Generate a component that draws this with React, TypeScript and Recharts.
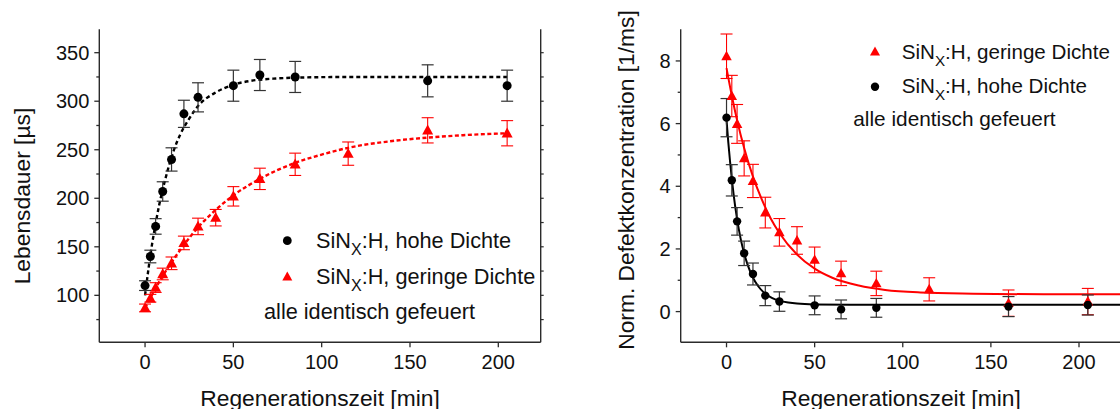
import React from "react";
import { ComposedChart, Scatter, Line, XAxis, YAxis, ErrorBar } from "recharts";

const FONT = '"Liberation Sans", Arial, Helvetica, sans-serif';
const INK = "#111";
const AXIS = "#2b2b2b";
const RED = "#ff0000";

// left panel: lifetime vs. regeneration time
const tLeftBlack = [0, 3, 6, 10, 15, 22, 30, 50, 65, 85, 160, 205];
const tauLeftBlack = [110, 140, 171, 207, 240, 287, 304, 316, 327, 325, 321, 316];
const errLeftBlack = [5, 6.5, 8, 10, 12, 14, 15, 16, 16, 16, 16.5, 16];

const tLeftRed = [0, 3, 6, 10, 15, 22, 30, 40, 50, 65, 85, 115, 160, 205];
const tauLeftRed = [87, 97, 108, 122, 133, 154, 171, 180, 202, 220, 235, 246, 270, 267];
const errLeftRed = [4, 4, 5, 6, 6.5, 7, 8.5, 8.5, 10, 11, 11.5, 12, 13, 13];

// fit curves
const fitLeftBlackT = [0, 2, 4, 6, 8, 10, 13, 16, 20, 25, 30, 40, 50, 60, 75, 90, 120, 160, 205];
const fitLeftBlackV = [100, 128, 153, 174, 193, 209, 230, 248, 266, 282, 295, 309, 317, 321, 323.5, 324.5, 325, 325, 325];
const fitLeftRedT = [0, 5, 10, 15, 20, 30, 40, 50, 65, 85, 100, 115, 140, 160, 180, 205];
const fitLeftRedV = [87, 104, 120, 134, 147, 170, 188, 203, 220, 236.5, 245, 252, 259, 262.5, 265, 267];

// right panel: normalised defect concentration
const tRightRed = [0, 3, 6, 10, 15, 22, 30, 40, 50, 65, 85, 115, 160, 205];
const nRightRed = [8.15, 6.88, 5.99, 4.89, 4.17, 3.16, 2.53, 2.27, 1.65, 1.22, 0.9, 0.71, 0.27, 0.32];
const errRightRed = [0.71, 0.66, 0.62, 0.56, 0.53, 0.49, 0.44, 0.44, 0.41, 0.39, 0.39, 0.37, 0.42, 0.42];

const tRightBlack = [0, 3, 6, 10, 15, 22, 30, 50, 65, 85, 160, 205];
const nRightBlack = [6.19, 4.19, 2.88, 1.86, 1.2, 0.51, 0.32, 0.2, 0.07, 0.12, 0.16, 0.21];
const errRightBlack = [0.61, 0.5, 0.44, 0.39, 0.35, 0.32, 0.31, 0.3, 0.3, 0.3, 0.32, 0.32];

const fitRightRedT = [0, 3, 6, 10, 15, 20, 25, 30, 40, 50, 60, 75, 90, 110, 140, 180, 224];
const fitRightRedV = [7.77, 6.89, 6.11, 5.22, 4.31, 3.58, 2.98, 2.51, 1.82, 1.37, 1.08, 0.83, 0.69, 0.61, 0.57, 0.55, 0.55];
const fitRightBlackT = [0, 1, 2, 3, 4, 6, 8, 10, 12, 15, 18, 22, 26, 30, 35, 40, 50, 70, 224];
const fitRightBlackV = [6.12, 5.41, 4.79, 4.24, 3.75, 2.95, 2.33, 1.86, 1.49, 1.08, 0.81, 0.57, 0.43, 0.35, 0.29, 0.255, 0.23, 0.22, 0.22];

const xTicks = [0, 50, 100, 150, 200];
const leftMajor = [100, 150, 200, 250, 300, 350];
const leftAll = [75, 100, 125, 150, 175, 200, 225, 250, 275, 300, 325, 350];
const rightMajor = [0, 2, 4, 6, 8];
const rightAll = [0, 1, 2, 3, 4, 5, 6, 7, 8];

const zip = (xs: number[], ys: number[], es?: number[]) =>
  xs.map((x, i) => ({ x, y: ys[i], e: es ? es[i] : 0 }));

const Dot = (r: number) => (p: any) => <circle cx={p.cx} cy={p.cy} r={r} fill="#000" />;
const Tri = (w: number) => (p: any) => {
  const h = w * 0.9;
  return (
    <polygon
      points={`${p.cx},${p.cy - h * 0.58} ${p.cx - w / 2},${p.cy + h * 0.42} ${p.cx + w / 2},${p.cy + h * 0.42}`}
      fill={RED}
    />
  );
};

// y tick with major/minor lengths; label only on majors
const YTick = (majors: number[]) => (p: any) => {
  const v = p.payload.value;
  const major = majors.includes(v);
  const ax = p.x + 10;
  return (
    <g>
      <line x1={ax - (major ? 5 : 3)} x2={ax} y1={p.y} y2={p.y} stroke={AXIS} strokeWidth={1.3} />
      {major && (
        <text x={p.x} y={p.y} dy="0.355em" textAnchor="end" fontSize={20} fontFamily={FONT} fill={INK}>
          {v}
        </text>
      )}
    </g>
  );
};

const tickStyle = { fontSize: 20, fill: INK, fontFamily: FONT };
const axisLine = { stroke: AXIS, strokeWidth: 1.4 };
const titleStyle = { fontSize: 22.8, fill: INK, fontFamily: FONT };

function SinText({ x, y, rest, size }: { x: number; y: number; rest: string; size: number }) {
  return (
    <text x={x} y={y} fontSize={size} fontFamily={FONT} fill={INK}>
      SiN
      <tspan fontSize={size * 0.74} dy={6.5}>X</tspan>
      <tspan dy={-6.5}>{rest}</tspan>
    </text>
  );
}

function VTitle({ x, y, text }: { x: number; y: number; text: string }) {
  return (
    <text x={x} y={y} dy="0.355em" textAnchor="middle" transform={`rotate(-90, ${x}, ${y})`} {...titleStyle}>
      {text}
    </text>
  );
}

function LeftPanel() {
  return (
    <ComposedChart width={600} height={409} margin={{ top: 29.3, right: 49.3, bottom: 0, left: 0 }}>
      <XAxis
        xAxisId="b"
        type="number"
        dataKey="x"
        domain={[-25.9, 224]}
        ticks={xTicks}
        allowDataOverflow
        height={66.7}
        tickSize={5}
        tickMargin={7.7}
        tick={tickStyle}
        axisLine={axisLine}
        tickLine={{ stroke: AXIS, strokeWidth: 1.3 }}
        label={{ value: "Regenerationszeit [min]", position: "insideBottom", offset: 3.5, ...titleStyle }}
      />
      <XAxis
        xAxisId="t"
        orientation="top"
        type="number"
        dataKey="x"
        domain={[-25.9, 224]}
        ticks={xTicks}
        allowDataOverflow
        height={0}
        mirror
        tickSize={3}
        tickFormatter={() => ""}
        axisLine={axisLine}
        tickLine={{ stroke: AXIS, strokeWidth: 1.2 }}
      />
      <YAxis
        yAxisId="l"
        type="number"
        domain={[51.6, 374.1]}
        ticks={leftAll}
        allowDataOverflow
        width={99.3}
        tickSize={5}
        tickMargin={5}
        tickLine={false}
        tick={YTick(leftMajor)}
        axisLine={axisLine}
      />
      <YAxis
        yAxisId="r"
        orientation="right"
        type="number"
        domain={[51.6, 374.1]}
        ticks={leftAll}
        allowDataOverflow
        width={10}
        tickSize={3}
        tickFormatter={() => ""}
        axisLine={axisLine}
        tickLine={{ stroke: AXIS, strokeWidth: 1.2 }}
      />
      <Line xAxisId="b" yAxisId="l" data={zip(fitLeftBlackT, fitLeftBlackV)} dataKey="y" type="monotone"
        stroke="#000" strokeWidth={2.4} strokeDasharray="4 3" dot={false} isAnimationActive={false} />
      <Line xAxisId="b" yAxisId="l" data={zip(fitLeftRedT, fitLeftRedV)} dataKey="y" type="monotone"
        stroke={RED} strokeWidth={2.4} strokeDasharray="4 2.5" dot={false} isAnimationActive={false} />
      <Scatter xAxisId="b" yAxisId="l" data={zip(tLeftRed, tauLeftRed, errLeftRed)} dataKey="y"
        shape={Tri(11)} isAnimationActive={false}>
        <ErrorBar dataKey="e" direction="y" width={6} stroke={RED} strokeWidth={1.1} />
      </Scatter>
      <Scatter xAxisId="b" yAxisId="l" data={zip(tLeftBlack, tauLeftBlack, errLeftBlack)} dataKey="y"
        shape={Dot(4.5)} isAnimationActive={false}>
        <ErrorBar dataKey="e" direction="y" width={6} stroke="#333" strokeWidth={1.2} />
      </Scatter>
    </ComposedChart>
  );
}

function RightPanel() {
  return (
    <ComposedChart width={540} height={409} margin={{ top: 29.3, right: 18.7, bottom: 0, left: 0 }}>
      <XAxis
        xAxisId="b"
        type="number"
        dataKey="x"
        domain={[-26, 224]}
        ticks={xTicks}
        allowDataOverflow
        height={66.7}
        tickSize={5}
        tickMargin={7.7}
        tick={tickStyle}
        axisLine={axisLine}
        tickLine={{ stroke: AXIS, strokeWidth: 1.3 }}
        label={{ value: "Regenerationszeit [min]", position: "insideBottom", offset: 3.5, ...titleStyle }}
      />
      <XAxis
        xAxisId="t"
        orientation="top"
        type="number"
        dataKey="x"
        domain={[-26, 224]}
        ticks={xTicks}
        allowDataOverflow
        height={0}
        mirror
        tickSize={3}
        tickFormatter={() => ""}
        axisLine={axisLine}
        tickLine={{ stroke: AXIS, strokeWidth: 1.2 }}
      />
      <YAxis
        yAxisId="l"
        type="number"
        domain={[-0.98, 9.01]}
        ticks={rightAll}
        allowDataOverflow
        width={80.7}
        tickSize={5}
        tickMargin={5}
        tickLine={false}
        tick={YTick(rightMajor)}
        axisLine={axisLine}
      />
      <Line xAxisId="b" yAxisId="l" data={zip(fitRightRedT, fitRightRedV)} dataKey="y" type="monotone"
        stroke={RED} strokeWidth={2} dot={false} isAnimationActive={false} />
      <Line xAxisId="b" yAxisId="l" data={zip(fitRightBlackT, fitRightBlackV)} dataKey="y" type="monotone"
        stroke="#000" strokeWidth={2} dot={false} isAnimationActive={false} />
      <Scatter xAxisId="b" yAxisId="l" data={zip(tRightRed, nRightRed, errRightRed)} dataKey="y"
        shape={Tri(10.5)} isAnimationActive={false}>
        <ErrorBar dataKey="e" direction="y" width={6} stroke={RED} strokeWidth={1.1} />
      </Scatter>
      <Scatter xAxisId="b" yAxisId="l" data={zip(tRightBlack, nRightBlack, errRightBlack)} dataKey="y"
        shape={Dot(4.2)} isAnimationActive={false}>
        <ErrorBar dataKey="e" direction="y" width={6} stroke="#333" strokeWidth={1.2} />
      </Scatter>
    </ComposedChart>
  );
}

export default function App() {
  return (
    <div style={{ position: "fixed", left: 0, top: 0, width: 1120, height: 409, overflow: "hidden", background: "#fff" }}>
      <div style={{ position: "absolute", left: 0, top: 0 }}>
        <LeftPanel />
      </div>
      <div style={{ position: "absolute", left: 600, top: 0 }}>
        <RightPanel />
      </div>
      <svg width={1120} height={409} style={{ position: "absolute", left: 0, top: 0, pointerEvents: "none" }}>
        <VTitle x={22} y={196} text="Lebensdauer [µs]" />
        <VTitle x={626} y={180} text="Norm. Defektkonzentration [1/ms]" />
        {/* left legend */}
        <circle cx={287.3} cy={240.7} r={4.4} fill="#000" />
        <SinText x={316} y={248.3} size={21.7} rest=":H, hohe Dichte" />
        <polygon points="287.3,271.5 282.3,280.5 292.3,280.5" fill={RED} />
        <SinText x={316} y={284.3} size={21.7} rest=":H, geringe Dichte" />
        <text x={264} y={318.5} fontSize={21.7} fontFamily={FONT} fill={INK}>alle identisch gefeuert</text>
        {/* right legend */}
        <polygon points="875,46.5 870,55.5 880,55.5" fill={RED} />
        <SinText x={901.7} y={59.3} size={20.6} rest=":H, geringe Dichte" />
        <circle cx={875} cy={86.7} r={4.2} fill="#000" />
        <SinText x={901.7} y={93.3} size={20.6} rest=":H, hohe Dichte" />
        <text x={853.3} y={126} fontSize={20.8} fontFamily={FONT} fill={INK}>alle identisch gefeuert</text>
      </svg>
    </div>
  );
}
